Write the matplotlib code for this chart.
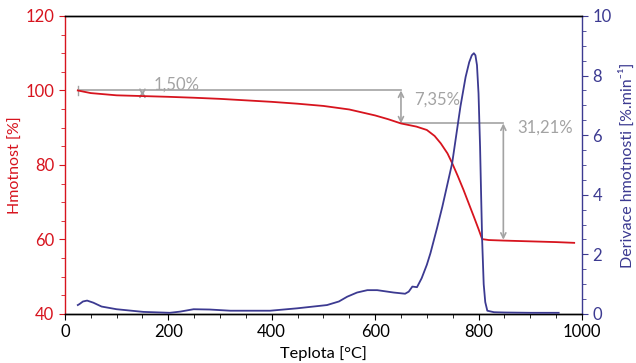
import matplotlib
matplotlib.use("Agg")
import matplotlib.pyplot as plt
from matplotlib.ticker import MultipleLocator

plt.rcParams['font.family'] = ['Lato', 'DejaVu Sans']

RED = "#d7141e"
BLUE = "#3c3a91"
GREY = "#a3a3a3"

# Mass curve (TG)
T_mass = [25, 50, 100, 150, 200, 250, 300, 350, 400, 450, 500, 550, 600, 625, 650,
          680, 700, 715, 727, 740, 749, 760, 771, 781, 791, 800, 807, 820, 850, 900, 950, 985]
mass = [100, 99.3, 98.7, 98.5, 98.3, 98.05, 97.75, 97.35, 96.95, 96.45, 95.85, 94.9, 93.3, 92.3, 91.15,
        90.3, 89.4, 87.8, 85.8, 83.1, 80.5, 77.0, 73.3, 69.7, 66.1, 62.8, 60.1, 59.85, 59.7, 59.5, 59.3, 59.1]

# Derivative curve (DTG)
T_dtg = [25, 28, 35, 43, 55, 71, 100, 152, 203, 223, 249, 280, 320, 397, 449, 507, 530, 546,
         565, 585, 604, 620, 636, 658, 665, 672, 681, 690, 700, 707, 720, 730, 749, 765, 775,
         782, 787, 791, 794, 797, 800, 803, 805, 807, 810, 813, 817, 830, 850, 900, 955]
dtg = [0.3, 0.33, 0.42, 0.45, 0.38, 0.25, 0.16, 0.07, 0.04, 0.08, 0.16, 0.15, 0.11, 0.11, 0.19,
       0.30, 0.42, 0.58, 0.72, 0.8, 0.8, 0.76, 0.72, 0.68, 0.75, 0.92, 0.9, 1.2, 1.65, 2.04, 2.9,
       3.6, 5.06, 6.96, 7.95, 8.45, 8.68, 8.75, 8.68, 8.35, 7.4, 5.6, 4.0, 2.48, 1.0, 0.4, 0.11,
       0.06, 0.05, 0.04, 0.04]

# Mass-loss steps: (temperature of arrow, upper level, lower level, label)
step_T = [150, 650, 848]
step_top = [100, 100, 91.15]
step_bottom = [98.5, 91.15, 59.94]
step_labels = ["1,50%", "7,35%", "31,21%"]
label_T = [172, 676, 874]
label_y = [101.5, 97.5, 89.9]

fig = plt.figure(figsize=(6.36, 3.63), dpi=100)
ax = fig.add_axes([0.102, 0.135, 0.813, 0.821])
ax2 = ax.twinx()

ax.plot(T_mass, mass, color=RED, lw=1.3, zorder=3)
ax2.plot(T_dtg, dtg, color=BLUE, lw=1.3, zorder=3)

# annotation lines
ax.plot([25, 650], [100, 100], color=GREY, lw=1.2, zorder=2)
ax.plot([650, 848], [91.15, 91.15], color=GREY, lw=1.2, zorder=2)
ax.plot([25, 25], [98.9, 101.1], color=GREY, lw=1.0, zorder=2)
for t, top, bot, lab, lx, ly in zip(step_T, step_top, step_bottom, step_labels, label_T, label_y):
    ax.annotate("", xy=(t, bot), xytext=(t, top),
                arrowprops=dict(arrowstyle="<->", color=GREY, lw=1.2,
                                mutation_scale=9, shrinkA=0, shrinkB=0), zorder=2)
    ax.text(lx, ly, lab, color=GREY, fontsize=12, va="center", ha="left")

ax.set_xlim(0, 1000)
ax.set_ylim(40, 120)
ax2.set_ylim(0, 10)

ax.xaxis.set_major_locator(MultipleLocator(200))
ax.xaxis.set_minor_locator(MultipleLocator(50))
ax.yaxis.set_major_locator(MultipleLocator(20))
ax.yaxis.set_minor_locator(MultipleLocator(5))
ax2.yaxis.set_major_locator(MultipleLocator(2))
ax2.yaxis.set_minor_locator(MultipleLocator(0.5))

for a in (ax, ax2):
    for s in a.spines.values():
        s.set_linewidth(1.0)
ax.spines['left'].set_color(RED)
ax2.spines['left'].set_visible(False)
ax.spines['right'].set_visible(False)
ax2.spines['right'].set_color(BLUE)
ax.spines['top'].set_color('black')
ax2.spines['top'].set_color('black')
ax.spines['bottom'].set_color('black')

ax.tick_params(axis='x', which='both', direction='out', colors='black', labelsize=12)
ax.tick_params(axis='x', which='major', length=4)
ax.tick_params(axis='x', which='minor', length=3)
ax.tick_params(axis='y', which='both', direction='out', colors=RED, labelsize=12, labelcolor=RED)
ax.tick_params(axis='y', which='major', length=4)
ax.tick_params(axis='y', which='minor', length=3)
ax2.tick_params(axis='y', which='both', direction='out', colors=BLUE, labelsize=12, labelcolor=BLUE)
ax2.tick_params(axis='y', which='major', length=4)
ax2.tick_params(axis='y', which='minor', length=3)

ax.set_xlabel("Teplota [°C]", fontsize=11.8, color='black', labelpad=4)
ax.set_ylabel("Hmotnost [%]", fontsize=11.5, color=RED)
ax.yaxis.set_label_coords(-0.081, 0.5)
ax2.set_ylabel("Derivace hmotnosti [%.min⁻¹]", fontsize=11.5, color=BLUE, labelpad=5)

fig.savefig("out.png", dpi=100)
